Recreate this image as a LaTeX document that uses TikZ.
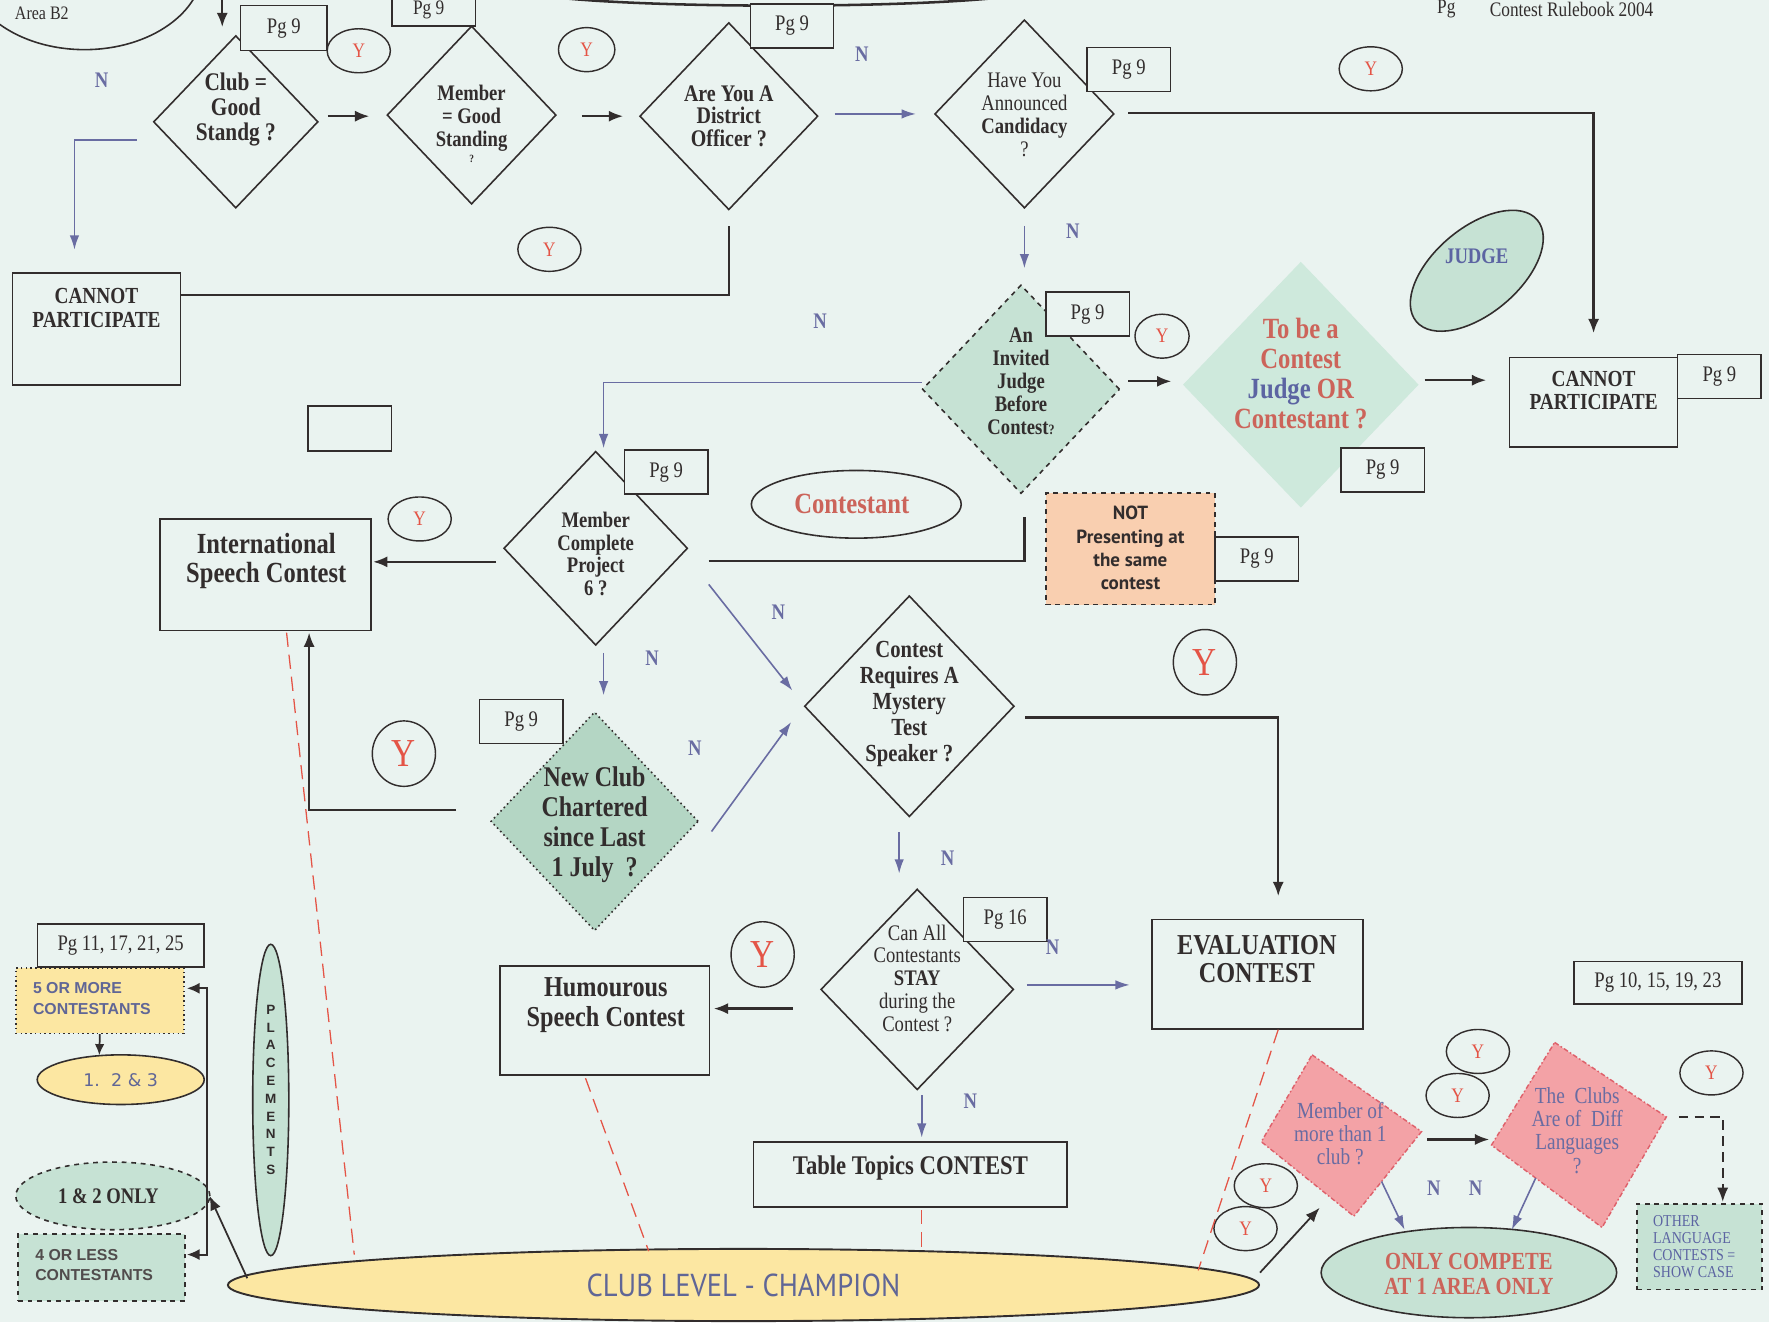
\documentclass[tikz,border=0pt]{standalone}
\usepackage{fontspec}
\setmainfont{Liberation Serif}
\newfontfamily\cond{Liberation Serif}[FakeStretch=0.84]
\newfontfamily\ptb{PT Sans}[FakeStretch=0.9]
\newfontfamily\pts{PT Sans}
\newfontfamily\lsans{Liberation Sans}
\newfontfamily\dvs{DejaVu Sans}
\usetikzlibrary{shapes.geometric,arrows.meta,calc}
\newdimen\uu \uu=0.25mm
\newcommand\fs[2]{\fontsize{#1}{#2}\selectfont}
\definecolor{bg}{RGB}{234,243,240}
\definecolor{ink}{RGB}{50,45,45}
\definecolor{blu}{RGB}{105,108,162}
\definecolor{yred}{RGB}{228,84,70}
\definecolor{grn}{RGB}{198,226,212}
\definecolor{grnlt}{RGB}{206,233,220}
\definecolor{grndk}{RGB}{180,214,196}
\definecolor{ylw}{RGB}{252,231,162}
\definecolor{pinkf}{RGB}{243,162,166}
\definecolor{pinkbd}{RGB}{222,96,106}
\definecolor{orng}{RGB}{249,207,176}
\definecolor{rtxt}{RGB}{204,100,90}
\definecolor{btxt}{RGB}{92,100,162}
\definecolor{sblu}{RGB}{96,102,150}
\begin{document}
\begin{tikzpicture}[x=0.25mm,y=-0.25mm,
 dia/.style={diamond, draw=ink, line width=1pt, inner sep=0pt},
 tb/.style={align=center, text=ink, inner sep=0pt, font=\cond\bfseries\fs{14}{14.4}},
 tr/.style={align=center, text=ink, inner sep=0pt, font=\cond\fs{14}{14.4}},
 pgb/.style={draw=ink, fill=bg, line width=0.9pt, inner sep=0pt, minimum width=74\uu, minimum height=39\uu, font=\cond\fs{14}{14}, text=ink},
 bx/.style={draw=ink, line width=1pt, inner sep=0pt},
 yc/.style={ellipse, draw=ink, line width=0.9pt, inner sep=0pt, minimum width=56\uu, minimum height=39\uu, text=yred, font=\cond\fs{13}{13}},
 ycb/.style={yc, minimum height=58\uu, font=\cond\fs{25}{25}},
 nl/.style={text=blu, inner sep=0pt, font=\cond\bfseries\fs{14}{14}},
 darr/.style={draw=ink, line width=1.4pt, -{Latex[length=9pt,width=7pt]}},
 barr/.style={draw=blu, line width=1pt, -{Latex[length=9pt,width=6pt]}},
 dln/.style={draw=ink, line width=1.4pt},
 rdash/.style={draw=yred, line width=0.8pt, dash pattern=on 9pt off 5pt},
]
\fill[bg] (0,0) rectangle (1568,1172);
\useasboundingbox (0,0) rectangle (1568,1172);

% ---- partial top elements
\node[ellipse, draw=ink, line width=1pt, minimum width=210\uu, minimum height=148\uu] (areab) at (75,-30) {};
\node[anchor=west, font=\cond\fs{12}{12}, text=ink, inner sep=0pt] (areat) at (13,12) {Area B2};
\node[ellipse, draw=ink, line width=1.6pt, minimum width=460\uu, minimum height=30\uu] (topell) at (690,-10) {};
\node[font=\cond\fs{13}{13}, text=ink, inner sep=0pt] (rbpg) at (1282,8) {Pg};
\node[font=\cond\fs{13}{13}, text=ink, inner sep=0pt] (rbtx) at (1393,8) {Contest Rulebook 2004};

% ---- diamonds row 1
\node[dia, minimum width=146\uu, minimum height=153\uu] (d1) at (209,108) {};
\node[tb, font=\cond\bfseries\fs{16}{16}] (d1t) at (209,97) {Club =\\Good\\Standg ?};
\node[dia, minimum width=150\uu, minimum height=158\uu] (d2) at (418,102) {};
\node[tb] (d2t) at (418,110) {Member\\= Good\\Standing\\[-4pt]{\fs{7}{7}?}};
\node[dia, minimum width=158\uu, minimum height=166\uu] (d3) at (646,103) {};
\node[tb, font=\cond\bfseries\fs{15}{14.3}] (d3t) at (646,103) {Are You A\\District\\Officer ?};
\node[dia, minimum width=159\uu, minimum height=167\uu] (d4) at (908,101) {};
\node[tr] (d4t) at (908,102) {Have You\\Announced\\{\bfseries Candidacy}\\?};

% ---- pg boxes row 1
\node[pgb, minimum width=77\uu, minimum height=40\uu] (pg1) at (251.5,25) {Pg 9};
\node[pgb, minimum height=43\uu] (pgT) at (384.5,1.5) {};
\node[font=\cond\fs{13}{13}, text=ink, inner sep=0pt] (pgTt) at (380,9) {Pg 9};
\node[pgb] (pg3) at (702,23) {Pg 9};
\node[pgb] (pg4) at (1000.5,61.5) {Pg 9};

% ---- cannot participate boxes
\node[bx, minimum width=149\uu, minimum height=99\uu] (cp1) at (85.5,291.5) {};
\node[tb, font=\cond\bfseries\fs{14.5}{15}] (cp1t) at (85.5,273) {CANNOT\\PARTICIPATE};
\node[bx, minimum width=149\uu, minimum height=79\uu] (cp2) at (1412.5,356.5) {};
\node[tb, font=\cond\bfseries\fs{14.5}{14.5}] (cp2t) at (1412.5,346) {CANNOT\\PARTICIPATE};
\node[pgb] (pg7) at (1524,333.5) {Pg 9};

% ---- middle diamonds
\node[dia, dashed, fill=grn, minimum width=175\uu, minimum height=185\uu] (d5) at (905,345) {};
\node[tb] (d5t) at (905,338) {An\\Invited\\Judge\\Before\\Contest{\fs{9}{9}?}};
\node[pgb] (pg5) at (964,278.5) {Pg 9};
\node[diamond, fill=grnlt, inner sep=0pt, minimum width=209\uu, minimum height=218\uu] (d7) at (1153,341) {};
\node[tb, text=rtxt, font=\cond\bfseries\fs{18.5}{18.8}] (d7t) at (1153,331) {To be a\\Contest\\{\color{btxt}Judge} OR\\Contestant ?};
\node[pgb] (pg6) at (1225.5,416.5) {Pg 9};
\node[ellipse, draw=ink, line width=1pt, fill=grn, minimum width=140\uu, minimum height=76\uu, rotate=40] (judge) at (1309,240) {};
\node[tb, text=btxt] (judget) at (1309,227) {JUDGE};

\node[bx, minimum width=74\uu, minimum height=40\uu] (emptyb) at (310,380) {};

\node[dia, minimum width=163\uu, minimum height=172\uu] (d6) at (528,486) {};
\node[tb] (d6t) at (528,491) {Member\\Complete\\Project\\6 ?};
\node[pgb] (pg8) at (590.5,418.5) {Pg 9};
\node[ellipse, draw=ink, line width=1pt, minimum width=186\uu, minimum height=60\uu] (cont) at (759,447) {};
\node[tb, text=rtxt, font=\cond\bfseries\fs{18.5}{18.5}] (contt) at (755,447) {Contestant};
\node[draw=ink, dashed, line width=0.9pt, fill=orng, minimum width=150\uu, minimum height=99\uu, inner sep=0pt] (notp) at (1002,486.5) {};
\node[font=\pts\bfseries\fs{12}{14.7}, text=ink, align=center] (notpt) at (1002,486) {NOT\\Presenting at\\the same\\contest};
\node[pgb] (pg9) at (1114,495.5) {Pg 9};

\node[bx, minimum width=187\uu, minimum height=99\uu] (isc) at (235.5,509.5) {};
\node[tb, font=\cond\bfseries\fs{18.4}{18.5}] (isct) at (236,497) {International\\Speech Contest};

\node[dia, dotted, fill=grndk, minimum width=184\uu, minimum height=194\uu] (d9) at (527,728) {};
\node[tb, font=\cond\bfseries\fs{18}{19}] (d9t) at (527,731) {New Club\\Chartered\\since Last\\1 July~~?};
\node[pgb] (pg10) at (462,639.5) {Pg 9};

\node[dia, minimum width=186\uu, minimum height=196\uu] (d8) at (806,626) {};
\node[tb, font=\cond\bfseries\fs{15.5}{16.3}] (d8t) at (806,624) {Contest\\Requires A\\Mystery\\Test\\Speaker ?};

\node[dia, minimum width=171\uu, minimum height=178\uu] (d10) at (813,877) {};
\node[tr] (d10t) at (813,867) {Can All\\Contestants\\{\bfseries STAY}\\during the\\Contest ?};
\node[pgb] (pg11) at (891,815) {Pg 16};

\node[bx, minimum width=187\uu, minimum height=97\uu] (ev) at (1114.5,863.5) {};
\node[tb, font=\cond\bfseries\fs{18.2}{18}] (evt) at (1114,850) {EVALUATION\\CONTEST};
\node[bx, minimum width=186\uu, minimum height=97\uu] (hum) at (536,904.5) {};
\node[tb, font=\cond\bfseries\fs{18.2}{18.5}] (humt) at (537,891) {Humourous\\Speech Contest};
\node[bx, minimum width=278\uu, minimum height=58\uu] (tt) at (807,1041) {};
\node[tb, font=\cond\bfseries\fs{17}{17}] (ttt) at (807,1035) {Table Topics CONTEST};

% ---- Y circles
\node[yc] (y1) at (318,45) {Y};
\node[yc, minimum width=50\uu] (y2) at (520,44) {Y};
\node[yc] (y3) at (487,221) {Y};
\node[yc] (y4) at (1215,61) {Y};
\node[yc, minimum width=48\uu] (y5) at (1030,298) {Y};
\node[yc] (y6) at (372,460) {Y};
\node[ycb] (y7) at (358,668) {Y};
\node[ycb] (y8) at (1068,587) {Y};
\node[ycb] (y9) at (676,846) {Y};
\node[yc] (y10) at (1122,1051) {Y};
\node[yc] (y11) at (1104,1089) {Y};
\node[yc] (y12) at (1310,932) {Y};
\node[yc] (y13) at (1292,971) {Y};
\node[yc] (y14) at (1517,951) {Y};

% ---- N labels
\node[nl] (n1) at (90,71) {N};
\node[nl] (n2) at (764,48) {N};
\node[nl] (n3) at (951,205) {N};
\node[nl] (n4) at (727,285) {N};
\node[nl] (n5) at (690,543) {N};
\node[nl] (n6) at (578,583) {N};
\node[nl] (n7) at (616,663) {N};
\node[nl] (n8) at (840,761) {N};
\node[nl] (n9) at (933,840) {N};
\node[nl] (n10) at (860,976) {N};
\node[nl] (n11) at (1271,1053) {N};
\node[nl] (n12) at (1308,1053) {N};

% ---- left group
\node[pgb, minimum width=148\uu, minimum height=38\uu] (pg12) at (107,838) {Pg 11, 17, 21, 25};
\node[draw=ink, dotted, line width=1pt, fill=ylw, minimum width=149\uu, minimum height=58\uu, inner sep=0pt] (fivem) at (88.5,887) {};
\node[anchor=west, align=left, font=\lsans\bfseries\fs{10}{12.8}, text=sblu, inner sep=0pt] (fivet) at (29,885) {5 OR MORE\\CONTESTANTS};
\node[ellipse, draw=ink, line width=1pt, fill=ylw, minimum width=148\uu, minimum height=44\uu, inner sep=0pt] (o123) at (107,957) {};
\node[font=\dvs\fs{11}{11}, text=sblu] (o123t) at (107,957) {1.~~2 \& 3};
\node[ellipse, draw=ink, dashed, line width=1pt, fill=grn, minimum width=172\uu, minimum height=60\uu, inner sep=0pt] (o12) at (100,1060) {};
\node[tb, font=\cond\bfseries\fs{14}{14}] (o12t) at (96,1060) {1 \& 2 ONLY};
\node[draw=ink, dashed, line width=1pt, fill=grn, minimum width=148\uu, minimum height=59\uu, inner sep=0pt] (fourl) at (90,1123.5) {};
\node[anchor=west, align=left, font=\lsans\bfseries\fs{10}{12.8}, text=ink!85, inner sep=0pt] (fourt) at (31,1121) {4 OR LESS\\CONTESTANTS};
\node[ellipse, draw=ink, line width=1pt, fill=grn, minimum width=32\uu, minimum height=276\uu, inner sep=0pt] (plac) at (240,975) {};
\node[font=\lsans\bfseries\fs{8.5}{11.2}, align=center, text=ink, inner sep=0pt] (plact) at (240,966) {P\\L\\A\\C\\E\\M\\E\\N\\T\\S};

% ---- bottom
\node[ellipse, draw=ink, line width=1.2pt, fill=ylw, minimum width=914\uu, minimum height=64\uu, inner sep=0pt] (champ) at (659,1139) {};
\node[font=\ptb\fs{20}{20}, text=sblu] (champt) at (659,1139) {CLUB LEVEL - CHAMPION};
\node[ellipse, draw=ink, line width=1pt, fill=grn, minimum width=262\uu, minimum height=80\uu, inner sep=0pt] (onlyc) at (1302,1128) {};
\node[tb, text=rtxt, font=\cond\bfseries\fs{15.5}{15.6}] (onlyct) at (1302,1129) {ONLY COMPETE\\AT 1 AREA ONLY};
\node[draw=ink, dashed, line width=1pt, fill=grn, minimum width=111\uu, minimum height=76\uu, inner sep=0pt] (other) at (1506.5,1105) {};
\node[anchor=west, align=left, font=\cond\fs{10.5}{10.7}, text=btxt, inner sep=0pt] (othert) at (1465,1105) {OTHER\\LANGUAGE\\CONTESTS =\\SHOW CASE};
\node[pgb, minimum width=149\uu, minimum height=38\uu] (pg13) at (1469.5,871) {Pg 10, 15, 19, 23};

% ---- pink diamonds
\coordinate (p1t) at (1163,935); \coordinate (p1r) at (1260,1003);
\coordinate (p1b) at (1200,1078); \coordinate (p1l) at (1118,1012);
\coordinate (p2t) at (1378,924); \coordinate (p2r) at (1477,990);
\coordinate (p2b) at (1420,1088); \coordinate (p2l) at (1322,1015);
\filldraw[fill=pinkf, draw=pinkbd, line width=0.9pt, dash pattern=on 3pt off 1.5pt on 1pt off 1.5pt] (p1t) -- (p1r) -- (p1b) -- (p1l) -- cycle;
\filldraw[fill=pinkf, draw=pinkbd, line width=0.9pt, dash pattern=on 3pt off 1.5pt on 1pt off 1.5pt] (p2t) -- (p2r) -- (p2b) -- (p2l) -- cycle;
\node[align=center, font=\cond\fs{14.5}{14.6}, text=blu, inner sep=0pt] (p1txt) at (1188,1005) {Member of\\more than 1\\club ?};
\node[align=center, font=\cond\fs{14.5}{14.6}, text=blu, inner sep=0pt] (p2txt) at (1398,1002) {The~~Clubs\\Are of~~Diff\\Languages\\?};

% ---- connectors
\coordinate (c1a) at (197,-2); \coordinate (c1b) at (197,24);
\draw[darr] (c1a) -- (c1b);
\draw[darr] ($(d1.east)+(8,-5)$) -- ($(d2.west)+(-15,1)$);
\draw[darr] ($(d2.east)+(22,1)$) -- ($(d3.west)+(-14,0)$);
\draw[barr] ($(d3.east)+(14,-2)$) -- ($(d4.west)+(-16,0)$);
\draw[darr] ($(d4.east)+(12,-1)$) -| ($(cp2.north)+(0,-21)$);
\draw[barr] ($(d1.west)+(-14,16)$) -| ($(cp1.north)+(-19.5,-20)$);
\draw[dln] ($(cp1.north east)+(0,20)$) -| ($(d3.south)+(0,14)$);
\draw[barr] ($(d4.south)+(0,15)$) -- ($(d5.north)+(3,-14)$);
\draw[barr] ($(d5.west)+(0,-6)$) -| ($(d6.north)+(7,-2)$);
\draw[darr] ($(d5.east)+(7,-7)$) -- ($(d7.west)+(-10,-3)$);
\draw[darr] ($(d7.east)+(5,-4)$) -- ($(cp2.west)+(-20,-19.5)$);
\draw[dln] ($(d6.east)+(18,11)$) -| ($(d5.south)+(3,20)$);
\draw[darr] ($(d6.west)+(-6,12)$) -- ($(isc.east)+(1,-11.5)$);
\draw[barr] ($(d6.east)+(18,32)$) -- ($(d8.west)+(-10,-14)$);
\draw[barr] ($(d6.south)+(7,6)$) -- ($(d9.north)+(8,-14)$);
\draw[darr] ($(d9.west)+(-30,-10)$) -| ($(isc.south)+(38.5,1)$);
\draw[barr] ($(d9.east)+(11,9)$) -- ($(d8.west)+(-11,14)$);
\draw[darr] ($(d8.east)+(9,10)$) -| ($(ev.north)+(18.5,-20)$);
\draw[barr] ($(d8.south)+(-9,13)$) -- ($(d10.north)+(-16,-13)$);
\draw[barr] ($(d10.east)+(11,-4)$) -- ($(ev.west)+(-19,9.5)$);
\draw[darr] ($(d10.west)+(-24,17)$) -- ($(hum.east)+(3,-10.5)$);
\draw[barr] ($(d10.south)+(4,4)$) -- ($(tt.north)+(10,-3)$);

\draw[rdash] ($(isc.south)+(18.5,1)$) -- ($(champ.center)+(-345,-27)$);
\draw[rdash] ($(hum.south)+(-17,2)$) -- ($(champ.center)+(-84,-30)$);
\draw[rdash] ($(tt.south)+(10,2)$) -- ($(champ.center)+(158,-31)$);
\draw[rdash] ($(ev.south)+(18.5,0)$) -- ($(champ.center)+(403,-13)$);

\draw[draw=ink, line width=1.1pt, -{Latex[length=7pt,width=6pt]}] (fivem.south) -- ($(o123.north)+(-19,1)$);
\draw[draw=ink, line width=1.2pt, {Latex[length=8pt,width=7pt]}-{Latex[length=8pt,width=7pt]}] ($(fivem.east)+(2,-11)$) -- ++(18,0) |- ($(fourl.east)+(1,-11.5)$);
\draw[darr, line width=1.1pt] ($(champ.west)+(18,-6)$) -- ($(o12.east)+(-1,0)$);
\draw[darr, line width=1.1pt] ($(champ.east)+(0,-11)$) -- ($(p1l)!0.63!(p1b)+(0,17)$);
\draw[darr] ($(p1r)+(5,7)$) -- ($(p2l)+(-2,-5)$);
\draw[barr] ($(p1r)!0.59!(p1b)$) -- ($(onlyc.center)+(-57,-38)$);
\draw[barr] ($(p2l)!0.4!(p2b)$) -- ($(onlyc.center)+(38,-38)$);
\draw[darr, line width=1.2pt, dash pattern=on 6pt off 4pt] ($(p2r)+(11,0)$) -| ($(other.north)+(20.5,-1)$);
\end{tikzpicture}
\end{document}
